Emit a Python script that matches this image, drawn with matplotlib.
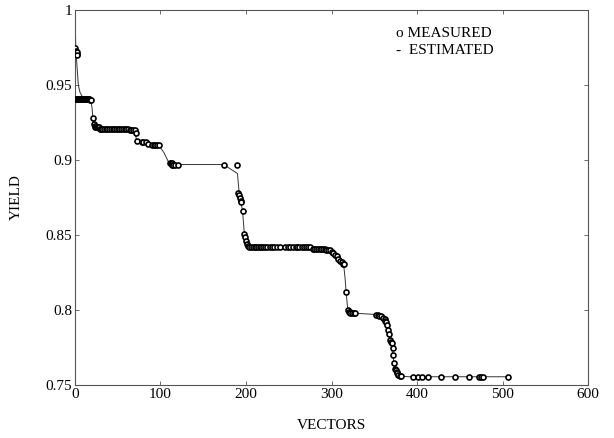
"""
Yield vs. number of test vectors: measured points and estimated curve.
"""
import matplotlib
matplotlib.use("Agg")
import matplotlib.pyplot as plt

# measured yield values (open circles)
meas_x = [
    0.5, 1, 1.5, 2, 2.5, 3,
    1, 2, 3, 4, 5, 6, 7, 8, 9, 10, 11, 12, 13, 14, 15, 16, 17, 18, 19,
    21,
    22, 23, 24, 25, 26, 27, 28, 29, 30, 32, 34, 36, 38, 40, 42, 44, 46, 48,
    50, 52, 54, 56, 58, 60, 62, 64, 66, 68, 70, 71,
    73, 78, 80, 83, 86, 90, 92, 94, 96, 98,
    111, 112, 113, 114, 115, 117, 120,
    174, 189,
    191, 192, 193, 194, 194.5, 196, 198, 199, 200, 201, 202, 204, 206, 208,
    210, 212, 214, 216, 218, 220, 222, 225, 228, 230, 233, 236, 240, 245,
    249, 252, 255, 258, 260, 262, 265, 268, 270, 272, 275, 278, 280, 282,
    284, 286, 288, 290, 292, 294, 296, 298,
    300, 302, 304, 306, 308, 310, 312, 313, 314,
    317, 319, 320, 321, 322, 324, 326, 327,
    352, 354, 356, 358, 360, 362, 363, 364, 365, 366, 367, 368, 369, 371,
    372, 372, 373, 374, 375, 376, 377, 378, 380, 381,
    395, 401, 406, 413, 428, 444, 461, 472, 475, 477, 506,
]
meas_y = [
    0.975, 0.973, 0.972, 0.971, 0.972, 0.970,
    0.941, 0.941, 0.941, 0.941, 0.941, 0.941, 0.941, 0.941, 0.941, 0.941,
    0.941, 0.941, 0.941, 0.941, 0.941, 0.941, 0.941, 0.940, 0.940,
    0.928,
    0.924, 0.923, 0.922, 0.922, 0.922, 0.922, 0.922, 0.921, 0.921, 0.921,
    0.921, 0.921, 0.921, 0.921, 0.921, 0.921, 0.921, 0.921,
    0.921, 0.921, 0.921, 0.921, 0.921, 0.921, 0.921, 0.920, 0.920, 0.920,
    0.920, 0.918,
    0.913, 0.912, 0.912, 0.912, 0.911, 0.910, 0.910, 0.910, 0.910, 0.910,
    0.898, 0.898, 0.898, 0.897, 0.897, 0.897, 0.897,
    0.897, 0.897,
    0.878, 0.877, 0.875, 0.873, 0.872, 0.866, 0.851, 0.849, 0.846, 0.844,
    0.843, 0.842, 0.842, 0.842,
    0.842, 0.842, 0.842, 0.842, 0.842, 0.842, 0.842, 0.842, 0.842, 0.842,
    0.842, 0.842, 0.842, 0.842,
    0.842, 0.842, 0.842, 0.842, 0.842, 0.842, 0.842, 0.842, 0.842, 0.842,
    0.842, 0.841, 0.841, 0.841,
    0.841, 0.841, 0.841, 0.841, 0.841, 0.840, 0.840, 0.840,
    0.839, 0.838, 0.837, 0.836, 0.834, 0.833, 0.832, 0.831, 0.831,
    0.812, 0.800, 0.799, 0.799, 0.798, 0.798, 0.798, 0.798,
    0.797, 0.797, 0.796, 0.796, 0.795, 0.794, 0.793, 0.792, 0.790, 0.787,
    0.784, 0.780, 0.779, 0.778,
    0.775, 0.770, 0.765, 0.761, 0.760, 0.759, 0.758, 0.757, 0.756, 0.756,
    0.7555, 0.7555, 0.7555, 0.7555, 0.7555, 0.7555, 0.7555, 0.7555, 0.7555,
    0.7555, 0.7555,
]

# estimated yield curve (thin line)
est_x = [
    0, 0.5, 1, 2, 3, 4, 6, 9, 12, 18, 20, 21, 23, 30, 70, 72, 80, 98, 104,
    110, 120, 174, 190, 192, 196, 198, 202, 210, 298, 310, 314, 316, 317,
    319, 324, 352, 362, 366, 369, 373, 376, 380, 390, 506,
]
est_y = [
    1.0, 0.99, 0.975, 0.966, 0.958, 0.950, 0.945, 0.942, 0.941, 0.941,
    0.935, 0.928, 0.923, 0.921, 0.920, 0.913, 0.912, 0.910, 0.905, 0.898,
    0.897, 0.897, 0.891, 0.878, 0.866, 0.851, 0.843, 0.842, 0.840, 0.833,
    0.831, 0.820, 0.812, 0.800, 0.798, 0.797, 0.794, 0.787, 0.779, 0.765,
    0.759, 0.756, 0.7555, 0.7555,
]

x_ticks = [0, 100, 200, 300, 400, 500, 600]
y_ticks = [0.75, 0.8, 0.85, 0.9, 0.95, 1.0]
y_tick_labels = ["0.75", "0.8", "0.85", "0.9", "0.95", "1"]

plt.rcParams["font.family"] = ["Liberation Serif", "DejaVu Serif"]

fig = plt.figure(figsize=(6.14, 4.38), dpi=100)
ax = fig.add_axes([0.122, 0.121, 0.836, 0.856])

ax.plot(est_x, est_y, color="#333333", linewidth=0.7, zorder=2)
ax.plot(meas_x, meas_y, linestyle="none", marker="o", markersize=3.6,
        markerfacecolor="white", markeredgecolor="black",
        markeredgewidth=1.2, zorder=3)

ax.set_xlim(0, 600)
ax.set_ylim(0.75, 1.0)
ax.set_xticks(x_ticks)
ax.set_yticks(y_ticks)
ax.set_yticklabels(y_tick_labels)
ax.tick_params(direction="in", length=3, width=0.6, top=True, right=True,
               labelsize=11, pad=2, color="#555555")
for sp in ax.spines.values():
    sp.set_linewidth(0.8)
    sp.set_color("#555555")

ax.set_xlabel("VECTORS", fontsize=11, labelpad=13)
ax.set_ylabel("YIELD", fontsize=11, labelpad=16)

ax.text(0.626, 0.928, "o MEASURED", transform=ax.transAxes, fontsize=11)
ax.text(0.626, 0.882, "-  ESTIMATED", transform=ax.transAxes, fontsize=11)

fig.savefig("out.png", dpi=100)
